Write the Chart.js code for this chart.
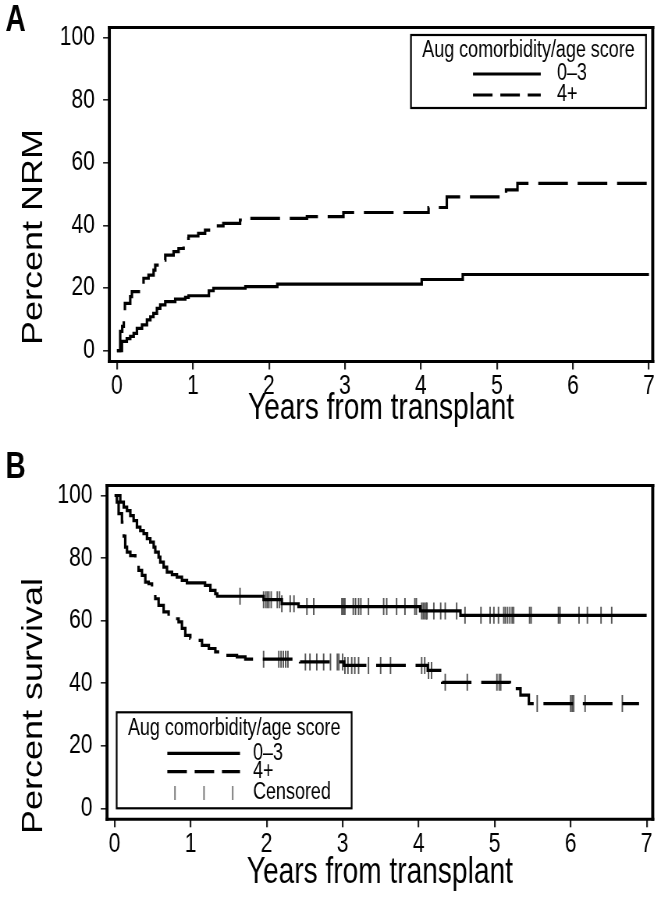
<!DOCTYPE html>
<html>
<head>
<meta charset="utf-8">
<script src="https://cdn.jsdelivr.net/npm/chart.js@4.4.1/dist/chart.umd.min.js"></script>
<style>
html,body{margin:0;padding:0;background:#fff;}
#wrap{width:661px;height:900px;overflow:hidden;background:#fff;}
canvas{display:block;}
</style>
</head>
<body>
<div id="wrap">
<canvas id="chartA" width="847" height="440" style="width:661px;height:440px"></canvas>
<canvas id="chartB" width="847" height="460" style="width:661px;height:460px"></canvas>
</div>
<script>
// ---------- data ----------
const xTickValues = [0, 1, 2, 3, 4, 5, 6, 7];
const yTickValues = [0, 20, 40, 60, 80, 100];
const groupLabels = ['0\u20133', '4+'];
const legendTitle = 'Aug comorbidity/age score';
const censorLabel = 'Censored';
const xTitle = 'Years from transplant';
const yTitleA = 'Percent NRM';
const yTitleB = 'Percent survival';

// Panel A: cumulative incidence of NRM (step changes: year, percent)
const nrmLowYears  = [0, 0.066, 0.13, 0.175, 0.22, 0.263, 0.33, 0.395, 0.44, 0.48, 0.526, 0.57, 0.636, 0.767, 0.899, 0.943, 1.21, 1.27, 1.69, 2.11, 4.01, 4.55, 7.0];
const nrmLowPct    = [0, 2.9, 3.8, 4.5, 5.5, 7.1, 8.2, 9.8, 10.8, 11.9, 13.5, 14.6, 15.6, 16.4, 17.0, 17.5, 19.1, 19.9, 20.4, 21.2, 22.7, 24.3, 24.3];
const nrmHighYears = [0, 0.043, 0.07, 0.09, 0.105, 0.175, 0.197, 0.307, 0.35, 0.416, 0.482, 0.504, 0.57, 0.636, 0.745, 0.811, 0.877, 0.899, 0.943, 1.07, 1.16, 1.25, 1.29, 1.40, 1.62, 1.69, 2.5, 2.98, 4.10, 4.34, 5.12, 5.27, 7.0];
const nrmHighPct   = [0, 6.1, 7.7, 12.0, 15.1, 17.2, 18.8, 20.6, 23.1, 24.1, 25.7, 27.3, 28.9, 30.5, 31.6, 32.6, 34.2, 35.8, 36.6, 37.4, 38.5, 39.2, 39.8, 40.6, 41.7, 42.2, 42.8, 44.1, 45.7, 49.1, 51.3, 53.4, 53.4];

// Panel B: survival (step changes: year, percent)
const survLowYears  = [0, 0.075, 0.12, 0.163, 0.207, 0.25, 0.294, 0.338, 0.382, 0.426, 0.47, 0.514, 0.535, 0.579, 0.601, 0.645, 0.689, 0.755, 0.82, 0.886, 0.952, 1.19, 1.26, 1.325, 1.35, 1.96, 2.2, 2.42, 4.02, 4.55, 7.0];
const survLowPct    = [100, 97.9, 96.3, 95.2, 93.6, 92.0, 89.9, 88.8, 87.8, 86.2, 85.1, 83.5, 81.9, 80.3, 78.7, 77.1, 75.5, 74.7, 73.9, 72.9, 72.1, 71.3, 69.7, 68.6, 67.8, 66.7, 65.4, 64.5, 63.1, 61.7, 61.7];
const survHighYears = [0, 0.03, 0.053, 0.097, 0.12, 0.14, 0.163, 0.207, 0.272, 0.316, 0.36, 0.404, 0.448, 0.492, 0.535, 0.579, 0.645, 0.711, 0.777, 0.842, 0.886, 0.93, 0.996, 1.06, 1.15, 1.24, 1.325, 1.41, 1.61, 1.72, 2.44, 3.02, 4.12, 4.31, 5.2, 5.34, 5.45, 6.9];
const survHighPct   = [100, 97.9, 94.2, 91.5, 87.0, 83.5, 81.9, 80.8, 78.2, 76.1, 74.5, 72.3, 71.8, 69.1, 67.0, 64.9, 62.8, 61.2, 60.6, 59.6, 57.5, 55.3, 54.3, 53.7, 52.1, 51.1, 50.0, 48.9, 48.4, 47.7, 46.8, 45.7, 44.1, 40.3, 38.3, 36.2, 33.5, 33.5];

// Censoring times (years)
const censorLowYears  = [1.65, 1.96, 1.99, 2.01, 2.03, 2.06, 2.14, 2.17, 2.2, 2.31, 2.36, 2.53, 2.62, 2.99, 3.01, 3.03, 3.14, 3.17, 3.21, 3.24, 3.34, 3.54, 3.58, 3.71, 3.82, 3.95, 3.97, 4.04, 4.06, 4.08, 4.1, 4.11, 4.2, 4.29, 4.35, 4.5, 4.61, 4.82, 4.94, 4.99, 5.05, 5.12, 5.14, 5.17, 5.2, 5.23, 5.25, 5.46, 5.48, 5.84, 5.86, 6.11, 6.22, 6.4, 6.54];
const censorHighYears = [1.96, 2.16, 2.19, 2.22, 2.25, 2.28, 2.51, 2.57, 2.66, 2.75, 2.84, 2.93, 2.95, 3.0, 3.03, 3.07, 3.12, 3.16, 3.21, 3.34, 3.5, 3.63, 4.04, 4.08, 4.13, 4.17, 4.35, 4.64, 5.03, 5.06, 5.08, 5.56, 6.0, 6.02, 6.04, 6.19, 6.68];

// ---------- helpers ----------
const FONT = "'Liberation Sans', Arial, Helvetica, sans-serif";
Chart.defaults.font.family = FONT;
Chart.defaults.color = '#000';

function toPoints(xs, ys) { return xs.map((x, i) => ({x: x, y: ys[i]})); }
function curveValueAt(xs, ys, t) {
  let v = ys[0];
  for (let i = 0; i < xs.length; i++) { if (xs[i] <= t) v = ys[i]; else break; }
  return v;
}
function censorPoints(times, xs, ys) { return times.map(t => ({x: t, y: curveValueAt(xs, ys, t)})); }

const PLOT_DASH = [38, 12.5];
const LEG_DASH = [25, 10];

const framePlugin = {
  id: 'frame',
  afterDraw(chart) {
    const {ctx, chartArea: {left, right, top, bottom}} = chart;
    ctx.save();
    ctx.strokeStyle = '#000';
    ctx.lineWidth = 3;
    ctx.beginPath();
    ctx.moveTo(left - 2, top); ctx.lineTo(right + 2, top);
    ctx.moveTo(left - 2, bottom); ctx.lineTo(right + 2, bottom);
    ctx.stroke();
    ctx.lineWidth = 3.9;
    ctx.beginPath();
    ctx.moveTo(left, top - 1.5); ctx.lineTo(left, bottom + 1.5);
    ctx.moveTo(right, top - 1.5); ctx.lineTo(right, bottom + 1.5);
    ctx.stroke();
    ctx.restore();
  }
};

const yTitlePlugin = {
  id: 'yTitle',
  afterDraw(chart, args, o) {
    if (!o || !o.text) return;
    const ctx = chart.ctx;
    ctx.save();
    ctx.translate(o.x, o.y);
    ctx.rotate(-Math.PI / 2);
    ctx.font = o.size + 'px ' + FONT;
    ctx.fillStyle = '#000';
    ctx.textAlign = 'center';
    ctx.textBaseline = 'middle';
    ctx.fillText(o.text, 0, 0);
    ctx.restore();
  }
};

const legendPlugin = {
  id: 'innerLegend',
  afterDraw(chart, args, o) {
    if (!o || !o.box) return;
    const ctx = chart.ctx;
    ctx.save();
    ctx.fillStyle = '#fff';
    ctx.fillRect(o.box.x, o.box.y, o.box.w, o.box.h);
    ctx.strokeStyle = '#000';
    ctx.lineWidth = 2.2;
    ctx.strokeRect(o.box.x, o.box.y, o.box.w, o.box.h);
    ctx.font = o.fontSize + 'px ' + FONT;
    ctx.fillStyle = '#000';
    ctx.textBaseline = 'middle';
    ctx.textAlign = 'center';
    ctx.fillText(o.title, o.titleX, o.titleY);
    ctx.textAlign = 'left';
    o.rows.forEach(r => {
      if (r.kind === 'censor') {
        ctx.strokeStyle = '#777';
        ctx.lineWidth = 1.9;
        ctx.setLineDash([]);
        ctx.beginPath();
        o.censorX.forEach(cx => { ctx.moveTo(cx, r.y - 7); ctx.lineTo(cx, r.y + 7); });
        ctx.stroke();
      } else {
        ctx.strokeStyle = '#000';
        ctx.lineWidth = 3.2;
        ctx.setLineDash(r.kind === 'dashed' ? LEG_DASH : []);
        ctx.beginPath();
        ctx.moveTo(o.lineX1, r.y); ctx.lineTo(o.lineX2, r.y);
        ctx.stroke();
        ctx.setLineDash([]);
      }
      ctx.fillStyle = '#000';
      ctx.fillText(r.label, o.labelX, r.y);
    });
    ctx.restore();
  }
};

const panelLabelPlugin = {
  id: 'panelLabel',
  afterDraw(chart, args, o) {
    if (!o || !o.text) return;
    const ctx = chart.ctx;
    ctx.save();
    ctx.font = 'bold 36px ' + FONT;
    ctx.fillStyle = '#000';
    ctx.textAlign = 'left';
    ctx.textBaseline = 'alphabetic';
    ctx.fillText(o.text, o.x, o.y);
    ctx.restore();
  }
};

function makeScales(cfg) {
  return {
    x: {
      type: 'linear', min: cfg.xMin, max: cfg.xMax, bounds: 'data',
      afterBuildTicks: s => { s.ticks = xTickValues.map(v => ({value: v})); },
      afterFit: s => { s.height = cfg.xAxisHeight; },
      border: {display: false},
      grid: {drawOnChartArea: false, drawTicks: true, tickLength: 8, color: '#222', lineWidth: 2.2},
      ticks: {padding: 1, color: '#000', font: {size: 27}, maxRotation: 0, autoSkip: false},
      title: {display: true, text: xTitle, color: '#000', font: {size: 36}, padding: {top: 0, bottom: cfg.xTitlePad}}
    },
    y: {
      type: 'linear', min: -3.5, max: 103.2, bounds: 'data',
      afterBuildTicks: s => { s.ticks = yTickValues.map(v => ({value: v})); },
      afterFit: s => { s.width = cfg.yAxisWidth; },
      border: {display: false},
      grid: {drawOnChartArea: false, drawTicks: true, tickLength: 8, color: '#222', lineWidth: 1.6},
      ticks: {padding: 10.5, color: '#000', font: {size: 27}, autoSkip: false},
      title: {display: false}
    }
  };
}

const lineStyle = (dash) => ({
  borderColor: '#000', borderWidth: 3.2, borderDash: dash, pointRadius: 0, pointHoverRadius: 0,
  stepped: 'before', fill: false, tension: 0, borderCapStyle: 'butt', borderJoinStyle: 'miter'
});

// ---------- Panel A ----------
new Chart(document.getElementById('chartA'), {
  type: 'line',
  data: {
    datasets: [
      Object.assign({label: groupLabels[0], data: toPoints(nrmLowYears, nrmLowPct)}, lineStyle([])),
      Object.assign({label: groupLabels[1], data: toPoints(nrmHighYears, nrmHighPct)}, lineStyle(PLOT_DASH))
    ]
  },
  options: {
    responsive: false, animation: false, devicePixelRatio: 1,
    layout: {autoPadding: false, padding: {left: 0, right: 10.6, top: 27.5, bottom: 0}},
    scales: makeScales({xMin: -0.1, xMax: 7.05, xAxisHeight: 78.5, yAxisWidth: 140.1, xTitlePad: 9}),
    plugins: {
      legend: {display: false}, tooltip: {enabled: false},
      yTitle: {text: yTitleA, x: 44, y: 237, size: 36},
      innerLegend: {
        box: {x: 526.6, y: 35, w: 301.2, h: 73}, fontSize: 23, title: legendTitle,
        titleX: 677.2, titleY: 51, lineX1: 606.1, lineX2: 692.9, labelX: 713.7,
        rows: [{kind: 'solid', y: 74, label: groupLabels[0]}, {kind: 'dashed', y: 95, label: groupLabels[1]}]
      },
      panelLabel: {text: 'A', x: 7, y: 31}
    }
  },
  plugins: [framePlugin, yTitlePlugin, legendPlugin, panelLabelPlugin]
});

// ---------- Panel B ----------
new Chart(document.getElementById('chartB'), {
  type: 'line',
  data: {
    datasets: [
      Object.assign({label: groupLabels[0], data: toPoints(survLowYears, survLowPct)}, lineStyle([])),
      Object.assign({label: groupLabels[1], data: toPoints(survHighYears, survHighPct)}, lineStyle(PLOT_DASH)),
      {label: censorLabel, data: censorPoints(censorLowYears, survLowYears, survLowPct), showLine: false,
       pointStyle: 'line', pointRotation: 90, pointRadius: 8.5, pointHoverRadius: 8.5, pointBorderWidth: 1.9, pointBorderColor: '#555', borderColor: '#555'},
      {label: censorLabel, data: censorPoints(censorHighYears, survHighYears, survHighPct), showLine: false,
       pointStyle: 'line', pointRotation: 90, pointRadius: 8.5, pointHoverRadius: 8.5, pointBorderWidth: 1.9, pointBorderColor: '#555', borderColor: '#555'}
    ]
  },
  options: {
    responsive: false, animation: false, devicePixelRatio: 1,
    layout: {autoPadding: false, padding: {left: 0, right: 10.6, top: 45.5, bottom: 0}},
    scales: makeScales({xMin: -0.1, xMax: 7.08, xAxisHeight: 80.7, yAxisWidth: 137.1, xTitlePad: 5}),
    plugins: {
      legend: {display: false}, tooltip: {enabled: false},
      yTitle: {text: yTitleB, x: 44, y: 266, size: 36},
      innerLegend: {
        box: {x: 149.5, y: 272.3, w: 301.1, h: 96}, fontSize: 23, title: legendTitle,
        titleX: 300.1, titleY: 288.3, lineX1: 214.4, lineX2: 307.5, labelX: 324.2,
        censorX: [224.2, 261.4, 298.2],
        rows: [{kind: 'solid', y: 313.3, label: groupLabels[0]}, {kind: 'dashed', y: 331.7, label: groupLabels[1]}, {kind: 'censor', y: 353, label: censorLabel}]
      },
      panelLabel: {text: 'B', x: 7, y: 38}
    }
  },
  plugins: [framePlugin, yTitlePlugin, legendPlugin, panelLabelPlugin]
});
</script>
</body>
</html>
